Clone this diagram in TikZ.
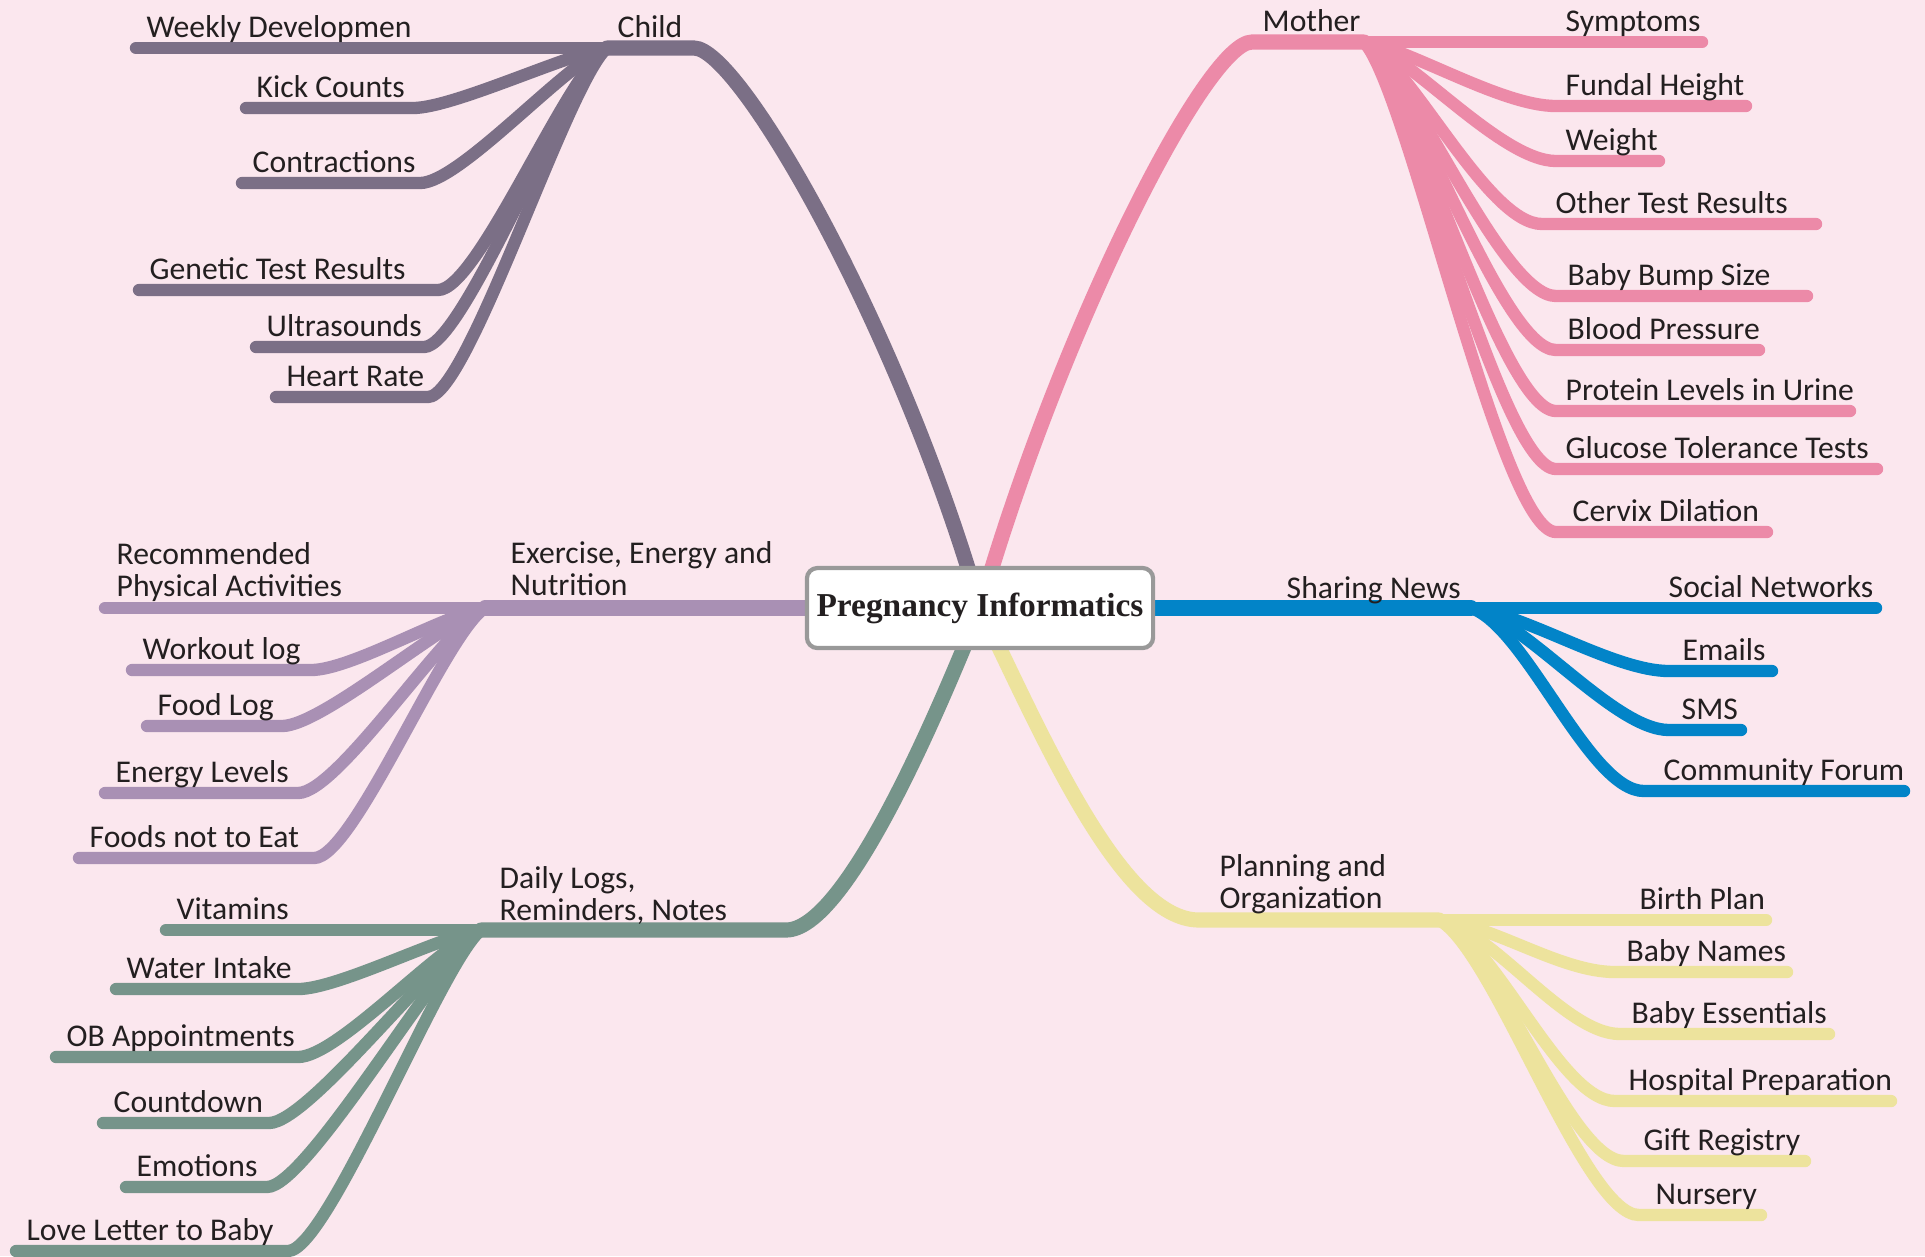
\documentclass[tikz,border=0pt]{standalone}
\usepackage{fontspec}
\setmainfont{Carlito}
\newfontfamily\rootfont{Liberation Serif}
\usetikzlibrary{positioning}

\definecolor{bgpink}{HTML}{FBE7EE}
\definecolor{childc}{HTML}{7B6F86}
\definecolor{motherc}{HTML}{EC8AA8}
\definecolor{newsc}{HTML}{0284C8}
\definecolor{planc}{HTML}{EDE39D}
\definecolor{dailyc}{HTML}{76948A}
\definecolor{fitc}{HTML}{A990B4}
\definecolor{inkc}{HTML}{231F20}

\tikzset{
  mainbranch/.style={line width=4.3pt, line cap=round},
  subbranch/.style={line width=3.5pt, line cap=round},
  leftleaf/.style={subbranch, shorten <=1.7pt},
  rightleaf/.style={subbranch, shorten >=1.7pt},
  leaf/.style={anchor=base west, inner sep=0pt, text=inkc, align=left,
    font=\fontsize{9}{9.1}\selectfont},
  rootbox/.style={draw=black!40, fill=white, line width=1.2pt, rounded corners=3pt,
    minimum width=3.46cm, minimum height=0.8cm, inner xsep=2pt, text=inkc,
    font=\rootfont\bfseries\fontsize{9.5}{11}\selectfont}
}

\begin{document}
\begin{tikzpicture}[x=0.01cm, y=-0.01cm]
   \fill[bgpink] (0,0) rectangle (1925,1256);
   \useasboundingbox (0,0) rectangle (1925,1256);

   % hubs
   \coordinate (core) at (980,608);
   \coordinate (childhub) at (607,48);
   \coordinate (motherhub) at (1364,42);
   \coordinate (fithub) at (485,608);
   \coordinate (dailyhub) at (481,930);
   \coordinate (newshub) at (1471,608);
   \coordinate (planhub) at (1439,920);

   % main branches
   \draw[mainbranch, childc] (core) .. controls (900,330) and (740,48) .. (694,48) -- (childhub);
   \draw[mainbranch, motherc] (core) .. controls (1060,330) and (1206,42) .. (1252,42) -- (motherhub);
   \draw[mainbranch, fitc] (core) -- (fithub);
   \draw[mainbranch, dailyc] (core) .. controls (935,720) and (845,930) .. (786,930) -- (dailyhub);
   \draw[mainbranch, newsc] (core) -- (newshub);
   \draw[mainbranch, planc] (core) .. controls (1040,730) and (1120,920) .. (1199,920) -- (planhub);

   % left side leaves
   \foreach \nm/\xl/\xe/\y/\txt in {weekly/130/413/48/Weekly Developmen,
       kick/240/413/108/Kick Counts, contr/236/420/183/Contractions,
       genetic/133/438/290/Genetic Test Results, ultra/250/424/347/Ultrasounds,
       heart/270/428/397/Heart Rate}{
     \coordinate (\nm-l) at (\xl,\y);
     \coordinate (\nm-e) at (\xe,\y);
     \draw[leftleaf, childc] (\nm-l) -- (\nm-e) .. controls +(40,0) and +(-40,{0.1*(\y-48)}) .. (childhub);
     \node[leaf] (\nm) at (\xl+16,\y-11) {\txt};
   }
   \foreach \nm/\xl/\xe/\y/\txt in {recom/99/300/608/{},
       workout/126/311/670/Workout log, food/141/282/726/Food Log,
       energy/99/298/793/Energy Levels, notfood/73/314/858/Foods not to Eat}{
     \coordinate (\nm-l) at (\xl,\y);
     \coordinate (\nm-e) at (\xe,\y);
     \draw[leftleaf, fitc] (\nm-l) -- (\nm-e) .. controls +(40,0) and +(-40,{0.1*(\y-608)}) .. (fithub);
     \node[leaf] (\nm) at (\xl+16,\y-11) {\txt};
   }
   \foreach \nm/\xl/\xe/\y/\txt in {vitamins/160/290/930/Vitamins,
       water/110/298/989/Water Intake, ob/50/298/1057/OB Appointments,
       count/97/269/1123/Countdown, emotion/120/267/1187/Emotions,
       love/10/288/1251/Love Letter to Baby}{
     \coordinate (\nm-l) at (\xl,\y);
     \coordinate (\nm-e) at (\xe,\y);
     \draw[leftleaf, dailyc] (\nm-l) -- (\nm-e) .. controls +(40,0) and +(-40,{0.1*(\y-930)}) .. (dailyhub);
     \node[leaf] (\nm) at (\xl+16,\y-11) {\txt};
   }

   % right side leaves
   \foreach \nm/\xs/\xr/\y/\tx/\txt in {symp/1556/1708/42/1565/Symptoms,
       fundal/1556/1752/106/1565/Fundal Height, weight/1556/1665/161/1565/Weight,
       othertest/1542/1822/224/1555/Other Test Results, bump/1556/1813/296/1567/Baby Bump Size,
       blood/1556/1765/350/1567/Blood Pressure, protein/1556/1856/411/1565/Protein Levels in Urine,
       glucose/1556/1883/469/1565/Glucose Tolerance Tests, cervix/1556/1773/532/1572/Cervix Dilation}{
     \coordinate (\nm-s) at (\xs,\y);
     \coordinate (\nm-e) at (\xr,\y);
     \draw[rightleaf, motherc] (motherhub) .. controls +(45,{0.1*(\y-42)}) and +(-55,0) .. (\nm-s) -- (\nm-e);
     \node[leaf] (\nm) at (\tx,\y-11) {\txt};
   }
   \foreach \nm/\xs/\xr/\y/\tx/\txt in {social/1669/1882/608/1668/Social Networks,
       emails/1669/1778/671/1682/Emails, sms/1669/1747/730/1681/SMS,
       forum/1644/1910/791/1663/Community Forum}{
     \coordinate (\nm-s) at (\xs,\y);
     \coordinate (\nm-e) at (\xr,\y);
     \draw[rightleaf, newsc] (newshub) .. controls +(55,{0.1*(\y-608)}) and +(-55,0) .. (\nm-s) -- (\nm-e);
     \node[leaf] (\nm) at (\tx,\y-11) {\txt};
   }
   \foreach \nm/\xs/\xr/\y/\tx/\txt in {birth/1615/1772/920/1639/Birth Plan,
       names/1615/1793/972/1626/Baby Names, essent/1620/1835/1034/1631/Baby Essentials,
       hospital/1615/1897/1101/1628/Hospital Preparation, gift/1624/1811/1161/1643/Gift Registry,
       nursery/1639/1767/1215/1655/Nursery}{
     \coordinate (\nm-s) at (\xs,\y);
     \coordinate (\nm-e) at (\xr,\y);
     \draw[rightleaf, planc] (planhub) .. controls +(55,{0.1*(\y-920)}) and +(-55,0) .. (\nm-s) -- (\nm-e);
     \node[leaf] (\nm) at (\tx,\y-11) {\txt};
   }

   % branch titles (base = last line)
   \node[leaf] (recomtxt) at (116,596) {Recommended\\Physical Activities};
   \node[leaf] (child) at (617,37) {Child};
   \node[leaf] (mother) at (1262,31) {Mother};
   \node[leaf] (fitness) at (510,595) {Exercise, Energy and\\Nutrition};
   \node[leaf] (daily) at (499,920) {Daily Logs,\\Reminders, Notes};
   \node[leaf] (news) at (1286,598) {Sharing News};
   \node[leaf] (plan) at (1219,908) {Planning and\\Organization};

   \node[rootbox] (root) at (core) {Pregnancy Informatics};
\end{tikzpicture}
\end{document}
